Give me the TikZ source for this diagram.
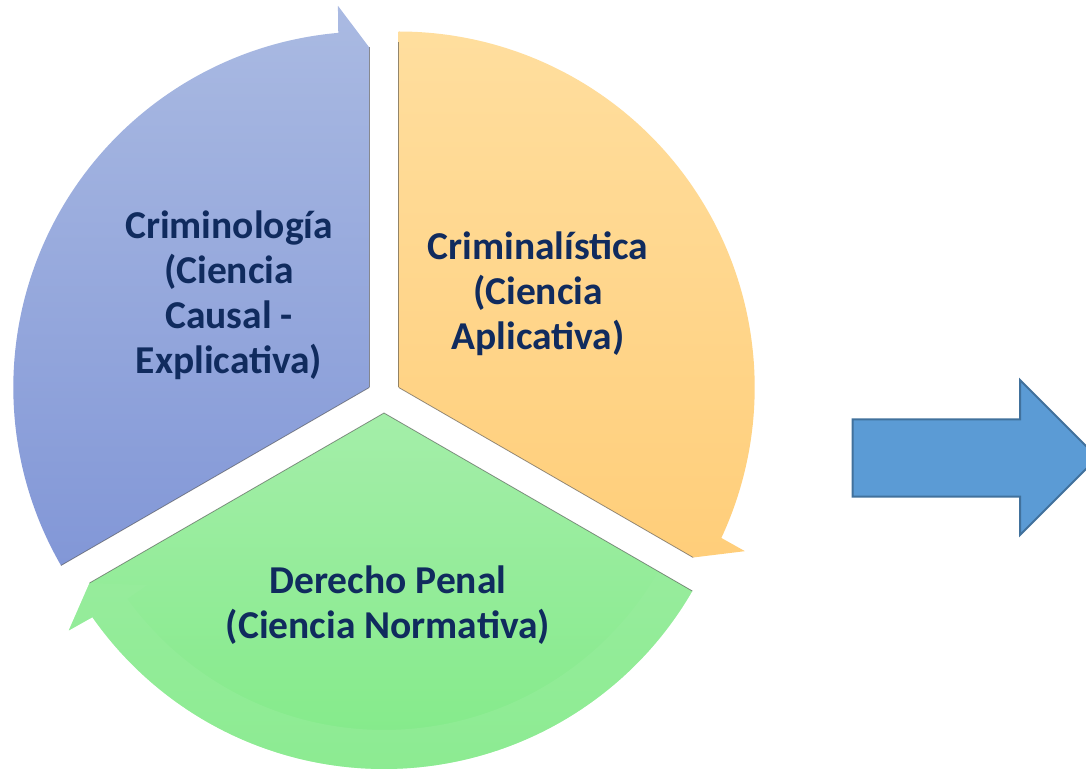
\documentclass[tikz,border=0pt]{standalone}
\usepackage{fontspec}
\setmainfont{Carlito}
\usetikzlibrary{calc}
\definecolor{bluetop}{HTML}{AABAE2}
\definecolor{bluebot}{HTML}{8297D7}
\definecolor{orgtop}{HTML}{FFDE9E}
\definecolor{orgbot}{HTML}{FFCE7A}
\definecolor{grntop}{HTML}{A4EEA9}
\definecolor{grnbot}{HTML}{82EA88}
\definecolor{grnband}{HTML}{9AEE9F}
\definecolor{txt}{HTML}{102B5E}
\definecolor{arrfill}{HTML}{5B9BD5}
\definecolor{arrline}{HTML}{41719C}
\tikzset{
  edgeline/.style={draw=black!70, line width=0.8pt, opacity=0.6},
  lbl/.style={text=txt, font=\fontsize{39.5}{45}\selectfont\bfseries, align=center, inner sep=0pt},
  blockarrow/.style={fill=arrfill, draw=arrline, line width=2pt, line join=miter}
}
\begin{document}
\begin{tikzpicture}[x=1pt,y=1pt]
\useasboundingbox (0,0) rectangle (1086,768);
\clip (0,0) rectangle (1086,768);
\coordinate (B) at (369.3,380.5);
\coordinate (O) at (398.7,380.5);
\coordinate (G) at (384,355);
% blue wedge
\shade[top color=bluetop, bottom color=bluebot]
  (B) -- ($(B)+(210:356)$) arc[start angle=210, end angle=95, radius=356]
  -- ($(B)+(94.7:383)$) -- ($(B)+(90:340)$) -- cycle;
% orange wedge
\shade[top color=orgtop, bottom color=orgbot]
  (O) -- ($(O)+(90:356)$) arc[start angle=90, end angle=-25, radius=356]
  -- ($(O)+(-25.3:383)$) -- ($(O)+(-30:340)$) -- cycle;
% green wedge
\shade[top color=grntop, bottom color=grnbot]
  (G) -- ($(G)+(330:356)$) arc[start angle=330, end angle=215, radius=356]
  -- ($(G)+(214.6:383)$) -- ($(G)+(210:340)$) -- cycle;
% green arrow band
\fill[grnband, opacity=0.45]
  ($(G)+(330:356)$) arc[start angle=330, end angle=215, radius=356]
  -- ($(G)+(214.6:383)$) -- ($(G)+(210:340)$) -- ($(G)+(216:293)$)
  -- ($(G)+(215.9:317)$) arc[start angle=215.9, end angle=330, radius=317] -- cycle;
% edge shadows
\draw[edgeline] (B) -- ($(B)+(90:340)$);
\draw[edgeline] (B) -- ($(B)+(210:356)$);
\draw[edgeline] (O) -- ($(O)+(90:345)$);
\draw[edgeline] (O) -- ($(O)+(-30:340)$);
\draw[edgeline] (G) -- ($(G)+(210:340)$);
\draw[edgeline] (G) -- ($(G)+(330:356)$);
% labels
\node[lbl] (tcrim) at (229,473) {Criminología\\(Ciencia\\Causal -\\Explicativa)};
\node[lbl] (tcrimi) at (538,474) {Criminalística\\(Ciencia\\Aplicativa)};
\node[lbl] (tder) at (388,163) {Derecho Penal\\(Ciencia Normativa)};
% block arrow
\draw[blockarrow] (852.7,348.7) -- (1020,348.7) -- (1020,388) -- (1097.5,310.5)
  -- (1020,233) -- (1020,271.3) -- (852.7,271.3) -- cycle;
\end{tikzpicture}
\end{document}
